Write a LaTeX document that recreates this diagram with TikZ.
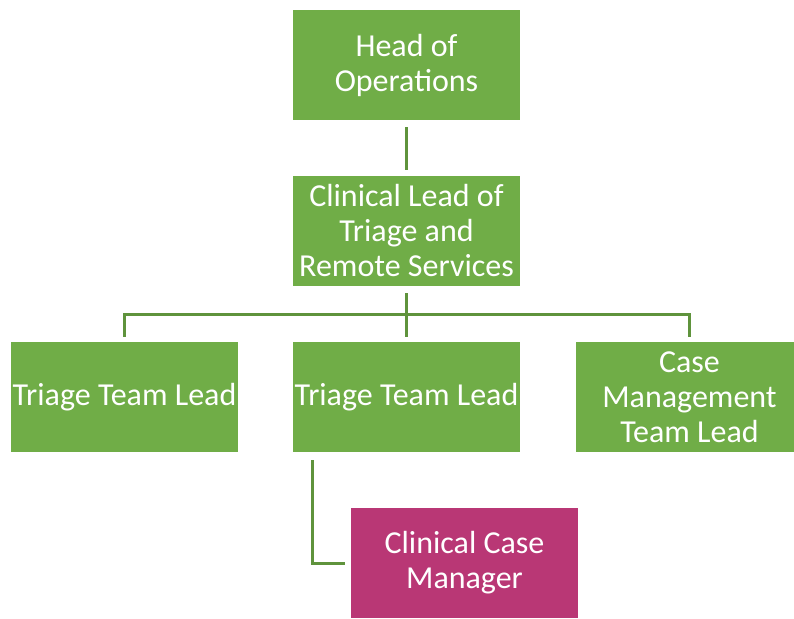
\documentclass[tikz,border=0pt]{standalone}
\usepackage{fontspec}
\setmainfont{Carlito}
\definecolor{ogreen}{RGB}{112,173,71}
\definecolor{omag}{RGB}{185,55,117}
\begin{document}
\begin{tikzpicture}[x=1pt,y=1pt,
  box/.style={fill=ogreen,draw=none,minimum width=227pt,minimum height=110pt,inner sep=0pt,
    text=white,align=center,font=\fontsize{32}{35}\selectfont},
  conn/.style={draw=ogreen!85!black,line width=3pt}]
\useasboundingbox (0,0) rectangle (794,618);
\clip (0,0) rectangle (794,618);
\node[box] (head) at (406.5,553) {Head of\\Operations};
\node[box] (clin) at (406.5,387) {Clinical Lead of\\Triage and\\Remote Services};
\node[box] (left) at (124.5,221) {Triage Team Lead};
\node[box] (mid) at (406.5,221) {Triage Team Lead};
\node[box] (right) at (689.5,221) {Case\\Management\\Team Lead};
\node[box,fill=omag] (mgr) at (464.5,55) {Clinical Case\\Manager};
\coordinate (bus) at (406.5,303);
\draw[conn] ([yshift=-7pt]head.south) -- ([yshift=6pt]clin.north);
\draw[conn] ([yshift=-7pt]clin.south) -- ([yshift=5pt]mid.north);
\draw[conn] ([yshift=5pt]left.north) |- (bus) -| ([yshift=5pt]right.north);
\draw[conn] ([xshift=20pt,yshift=-8pt]mid.south west) |- ([xshift=-6pt]mgr.west);
\end{tikzpicture}
\end{document}
